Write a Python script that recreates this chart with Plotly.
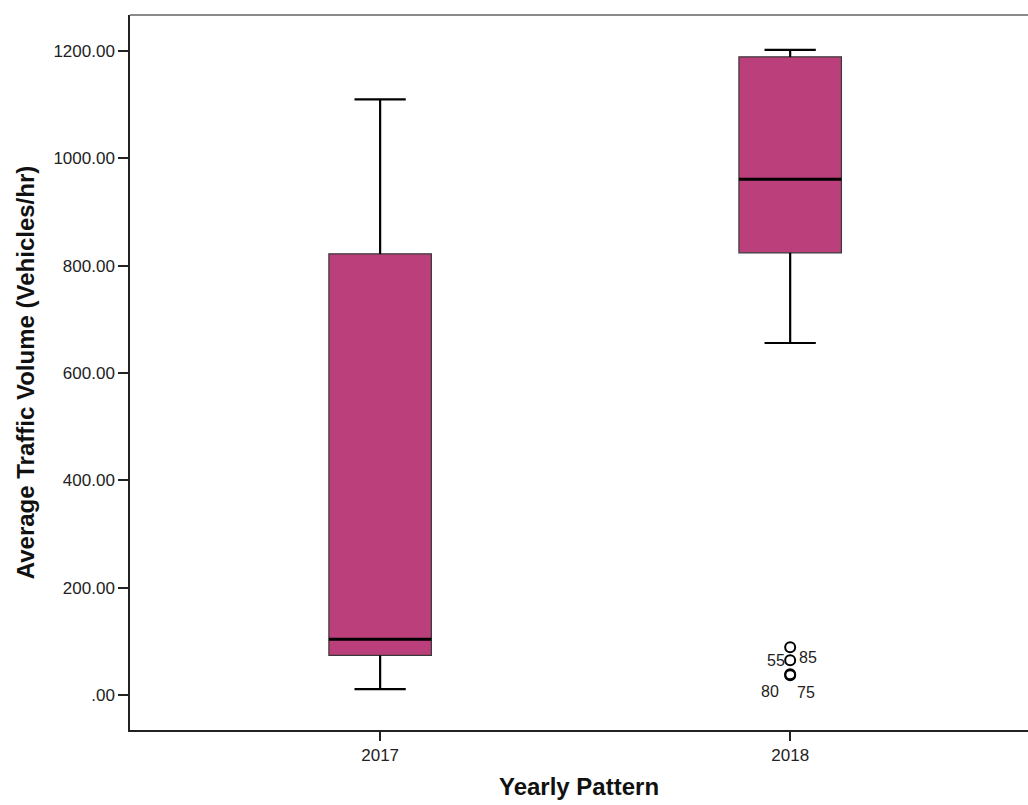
import plotly.graph_objects as go

# Yearly summary statistics of average traffic volume (vehicles/hr)
years = ["2017", "2018"]
lower_whisker = [11, 656]
q1 = [74, 824]
median = [104, 961]
q3 = [822, 1189]
upper_whisker = [1110, 1202]

# Outlying cases for 2018: (case id, value)
outlier_ids = ["85", "55", "80", "75"]
outlier_vals = [89, 65, 39, 37]
outlier_year_idx = [1, 1, 1, 1]

box_fill = "#BB3F7A"
box_width = 0.25
cap_half = box_width / 4
FONT = "Liberation Sans, Arial"

xs = list(range(len(years)))
fig = go.Figure()

for i, yr in enumerate(years):
    fig.add_trace(go.Box(
        x=[xs[i]], q1=[q1[i]], median=[median[i]], q3=[q3[i]],
        lowerfence=[q1[i]], upperfence=[q3[i]],
        width=box_width, fillcolor=box_fill,
        line=dict(color="#3a3a3a", width=1.2),
        boxpoints=False, showlegend=False, hoverinfo="skip",
    ))
    # whiskers
    for a, b in ((lower_whisker[i], q1[i]), (q3[i], upper_whisker[i])):
        fig.add_trace(go.Scatter(x=[xs[i], xs[i]], y=[a, b], mode="lines",
                                 line=dict(color="black", width=2.2),
                                 showlegend=False, hoverinfo="skip"))
    # whisker caps
    for v in (lower_whisker[i], upper_whisker[i]):
        fig.add_trace(go.Scatter(x=[xs[i] - cap_half, xs[i] + cap_half], y=[v, v],
                                 mode="lines", line=dict(color="black", width=2.2),
                                 showlegend=False, hoverinfo="skip"))
    # median
    fig.add_trace(go.Scatter(x=[xs[i] - box_width / 2, xs[i] + box_width / 2],
                             y=[median[i], median[i]], mode="lines",
                             line=dict(color="black", width=3),
                             showlegend=False, hoverinfo="skip"))

# outliers
fig.add_trace(go.Scatter(
    x=[xs[k] for k in outlier_year_idx], y=outlier_vals, mode="markers",
    marker=dict(symbol="circle-open", size=10, color="black", line=dict(width=2)),
    showlegend=False, hoverinfo="skip",
))

label_offsets = {"85": ("left", 7, -10), "55": ("right", 3, 0),
                 "80": ("right", 9, -17), "75": ("left", 5, -17)}
for oid, val, k in zip(outlier_ids, outlier_vals, outlier_year_idx):
    anchor, dx, dy = label_offsets[oid]
    fig.add_annotation(x=xs[k], y=val, text=oid, showarrow=False,
                       xanchor=anchor, yanchor="middle",
                       xshift=dx if anchor == "left" else -dx, yshift=dy,
                       font=dict(family=FONT, size=16, color="#222"))

fig.add_shape(type="line", xref="paper", yref="paper", x0=0, x1=1, y0=1, y1=1,
              line=dict(color="#8a8a8a", width=2))

fig.update_layout(
    width=1028, height=805,
    margin=dict(l=130, r=0, t=15, b=75),
    paper_bgcolor="white", plot_bgcolor="white",
    font=dict(family=FONT, color="#222"),
    xaxis=dict(
        range=[-0.61, 1.58], tickmode="array", tickvals=xs, ticktext=years,
        showgrid=False, zeroline=False, showline=True, linecolor="#222", linewidth=1.5,
        ticks="outside", ticklen=9, tickwidth=1.5, tickcolor="#222",
        tickfont=dict(size=17, color="#222"),
        title=dict(text="<b>Yearly Pattern</b>", font=dict(size=24, color="#111"), standoff=14),
    ),
    yaxis=dict(
        range=[-65, 1267], tickmode="array",
        tickvals=[0, 200, 400, 600, 800, 1000, 1200],
        ticktext=[".00", "200.00", "400.00", "600.00", "800.00", "1000.00", "1200.00"],
        showgrid=False, zeroline=False, showline=True, linecolor="#222", linewidth=1.5,
        ticks="outside", ticklen=10, tickwidth=1.5, tickcolor="#222",
        tickfont=dict(size=17, color="#222"),
        title=dict(text="<b>Average Traffic Volume (Vehicles/hr)</b>",
                   font=dict(size=24, color="#111"), standoff=12),
    ),
)

fig.write_html("out.html")
